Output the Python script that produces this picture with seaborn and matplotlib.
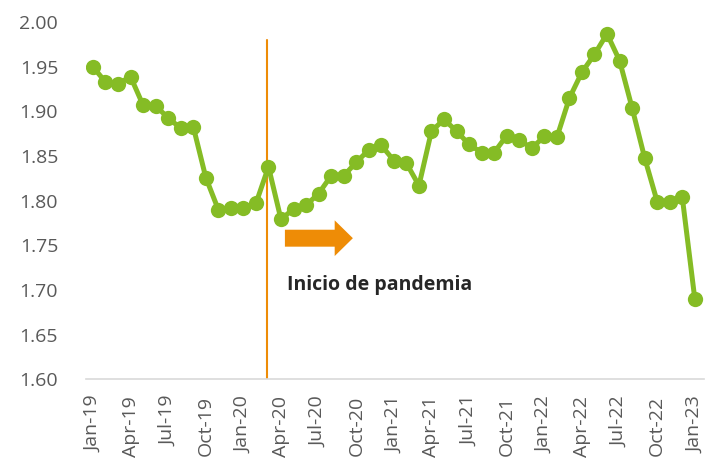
"""Recreate the monthly line chart with the pandemic marker."""
import matplotlib
matplotlib.use("Agg")
import matplotlib.pyplot as plt
import pandas as pd
import seaborn as sns

MONTHS = pd.date_range("2019-01-01", "2023-01-01", freq="MS")
month_labels = [d.strftime("%b-%y") for d in MONTHS]

values = [
    1.950, 1.933, 1.931, 1.939, 1.907, 1.906, 1.893, 1.881, 1.883, 1.826,
    1.790, 1.792, 1.792, 1.797, 1.838, 1.779, 1.791, 1.795, 1.808, 1.828,
    1.828, 1.843, 1.857, 1.862, 1.845, 1.842, 1.817, 1.878, 1.891, 1.878,
    1.863, 1.854, 1.854, 1.873, 1.868, 1.859, 1.872, 1.871, 1.915, 1.944,
    1.964, 1.987, 1.957, 1.904, 1.848, 1.799, 1.799, 1.804, 1.690,
]
y_ticks = [1.60, 1.65, 1.70, 1.75, 1.80, 1.85, 1.90, 1.95, 2.00]
pandemic_month = "Mar-20"
note_text = "Inicio de pandemia"

GREEN = "#85BC25"
ORANGE = "#EE8C06"
GREY = "#595959"

data = pd.DataFrame({"idx": range(len(values)), "value": values})

sns.set_theme(style="white")
plt.rcParams["font.family"] = ["Open Sans", "DejaVu Sans"]

fig = plt.figure(figsize=(7.16, 4.63), dpi=100)
ax = fig.add_axes([0.120, 0.181, 0.863, 0.771])

sns.lineplot(data=data, x="idx", y="value", color=GREEN, linewidth=3.6,
             marker="o", markersize=11, markeredgewidth=0, ax=ax, zorder=3)

p = month_labels.index(pandemic_month)
ax.axvline(p - 0.08, ymin=0, ymax=0.95, color=ORANGE, linewidth=1.5, zorder=2)
ax.arrow(p + 1.31, 1.758, 5.42, 0, width=0.019, head_width=0.040,
         head_length=1.45, length_includes_head=True, color=ORANGE,
         linewidth=0, zorder=2)
ax.text(p + 1.45, 1.706, note_text, fontsize=14, fontweight="bold",
        color="#262626", va="center", ha="left")

ax.set_ylim(y_ticks[0], y_ticks[-1])
ax.set_yticks(y_ticks)
ax.set_yticklabels([f"{t:.2f}" for t in y_ticks])
ax.set_xlim(-0.56, 48.72)
tick_pos = list(range(0, len(values), 3))
ax.set_xticks(tick_pos)
ax.set_xticklabels([month_labels[i] for i in tick_pos], rotation=90)
ax.tick_params(axis="both", labelsize=14, colors=GREY, length=0)
ax.tick_params(axis="y", pad=20)
ax.tick_params(axis="x", pad=12)
ax.set_xlabel("")
ax.set_ylabel("")

for side in ["top", "right", "left"]:
    ax.spines[side].set_visible(False)
ax.spines["bottom"].set_color("#D9D9D9")
ax.spines["bottom"].set_linewidth(1.2)

fig.savefig("out.png", dpi=100)
